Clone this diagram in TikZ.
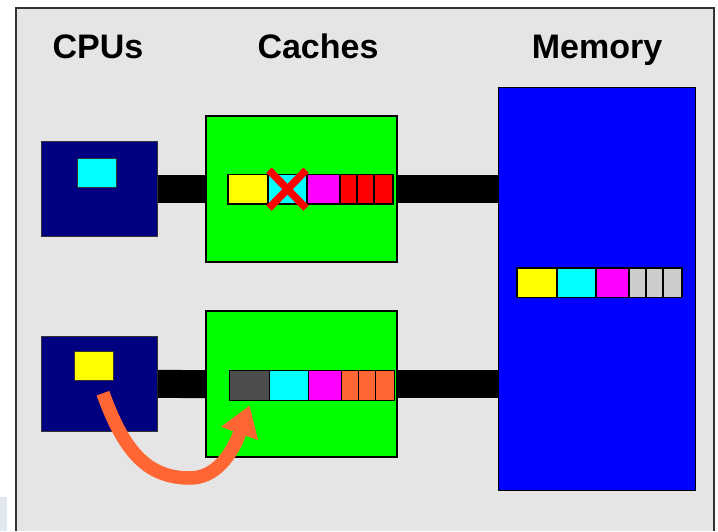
\documentclass[tikz,border=0pt]{standalone}
\usepackage{fontspec}
\setmainfont{Liberation Sans}
\usetikzlibrary{positioning,arrows.meta}

\definecolor{panelgray}{HTML}{E5E5E5}
\definecolor{cpublue}{HTML}{000080}
\definecolor{memblue}{HTML}{0000FF}
\definecolor{cachegreen}{HTML}{00FF00}
\definecolor{cellcyan}{HTML}{00FFFF}
\definecolor{cellyellow}{HTML}{FFFF00}
\definecolor{cellmagenta}{HTML}{FF00FF}
\definecolor{cellred}{HTML}{FF0000}
\definecolor{cellorange}{HTML}{FF6633}
\definecolor{celldark}{HTML}{4D4D4D}
\definecolor{cellgray}{HTML}{CCCCCC}
\definecolor{cornerblue}{HTML}{E1E8F2}

\tikzset{
  box/.style={draw=black!80, line width=1pt, inner sep=0pt, outer sep=0pt},
  cell/.style={draw=black, line width=1.2pt, inner sep=0pt, outer sep=0pt, minimum height=29.5pt},
  title/.style={font=\fontsize{34}{40}\selectfont\bfseries, anchor=base},
  bus/.style={line width=28pt, black},
  cross/.style={line width=7.5pt, cellred},
  fetch/.style={draw=cellorange, line width=13.5pt, -{Triangle[width=37pt,length=30pt]}},
}

% one line of six cells, #1 name, #2 west end, #3-#8 colours
\newcommand{\cellrow}[8]{%
  \node[cell, fill=#3, minimum width=40pt, anchor=west] (#1-1) at (#2) {};
  \node[cell, fill=#4, minimum width=39pt, right=0pt of #1-1] (#1-2) {};
  \node[cell, fill=#5, minimum width=33pt, right=0pt of #1-2] (#1-3) {};
  \node[cell, fill=#6, minimum width=17pt, right=0pt of #1-3] (#1-4) {};
  \node[cell, fill=#7, minimum width=17pt, right=0pt of #1-4] (#1-5) {};
  \node[cell, fill=#8, minimum width=19pt, right=0pt of #1-5] (#1-6) {};
}

\begin{document}
\begin{tikzpicture}[x=1pt,y=-1pt]
\useasboundingbox (0,0) rectangle (718,531);
\fill[cornerblue] (0,497) rectangle (7,531);
\fill[panelgray] (16,8) rectangle (714,531);
\draw[black!80, line width=1.5pt] (16,531) -- (16,8) -- (714,8) -- (714,531);

% titles
\node[title] (tcpu) at (98,58) {CPUs};
\node[title] (tcache) at (318,58) {Caches};
\node[title] (tmem) at (597,58) {Memory};

% CPUs
\node[box, fill=cpublue, minimum width=116pt, minimum height=95pt] (cpuA) at (99.7,189) {};
\node[box, fill=cellcyan, minimum width=39pt, minimum height=29pt] (regA) at (96.7,173.3) {};
\node[box, fill=cpublue, minimum width=116pt, minimum height=95pt] (cpuB) at (99.7,383.8) {};
\node[box, fill=cellyellow, minimum width=39pt, minimum height=29pt] (regB) at (94,366.2) {};

% caches and memory
\node[box, draw=black, line width=1.5pt, fill=cachegreen, minimum width=191pt, minimum height=146pt] (cacheA) at (301.5,189) {};
\node[box, draw=black, line width=1.5pt, fill=cachegreen, minimum width=191pt, minimum height=146pt] (cacheB) at (301.5,384.2) {};
\node[box, draw=black, fill=memblue, minimum width=197pt, minimum height=403pt] (mem) at (596.8,288.7) {};

% buses
\draw[bus] (cpuA.east) -- (cacheA.west);
\draw[bus] (cacheA.east) -- (cacheA.east -| mem.west);
\draw[bus] (cpuB.east) -- (cacheB.west);
\draw[bus] (cacheB.east) -- (cacheB.east -| mem.west);

% cache lines
\cellrow{la}{228,189.2}{cellyellow}{cellcyan}{cellmagenta}{cellred}{cellred}{cellred}
\cellrow{lb}{229.7,385.5}{celldark}{cellcyan}{cellmagenta}{cellorange}{cellorange}{cellorange}
\cellrow{lm}{517,282.8}{cellyellow}{cellcyan}{cellmagenta}{cellgray}{cellgray}{cellgray}

% invalidated word
\draw[cross] ([shift={(-18.5,-19)}]la-2.center) -- ([shift={(18.5,19)}]la-2.center);
\draw[cross] ([shift={(18.5,-19)}]la-2.center) -- ([shift={(-18.5,19)}]la-2.center);

% fetch into cache
\coordinate (from) at ([shift={(9,12.5)}]regB.south);
\coordinate (bend) at (190,478);
\coordinate (to) at ([shift={(0,5)}]lb-1.south);
\draw[fetch] (from) .. controls +(22,62) and +(-40,0) .. (bend) .. controls +(25,0) and +(-18,50) .. (to);
\end{tikzpicture}
\end{document}
